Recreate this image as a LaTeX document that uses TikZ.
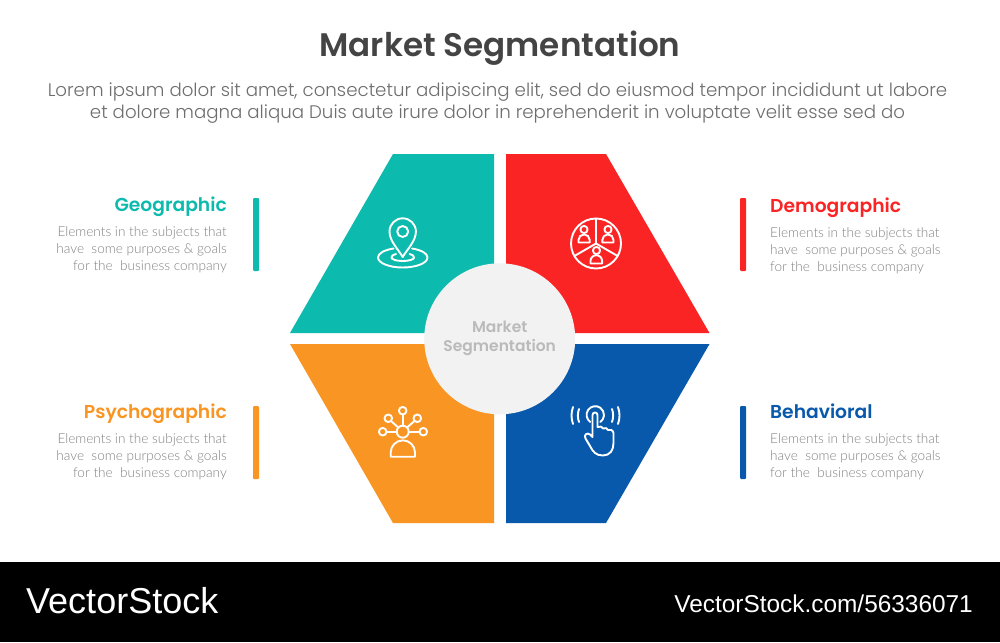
\documentclass[tikz,border=0pt]{standalone}
\usepackage{fontspec}
\setmainfont{Poppins}
\newfontfamily\semifont{Poppins SemiBold}
\newfontfamily\lightfont{Poppins Light}
\newfontfamily\bodyfont{Lato Light}
\newfontfamily\vsfont{Liberation Sans}
\definecolor{teal1}{HTML}{0DBAAE}
\definecolor{red1}{HTML}{FB2424}
\definecolor{orange1}{HTML}{F99522}
\definecolor{blue1}{HTML}{0859AB}
\definecolor{ink}{HTML}{444444}
\definecolor{leadgrey}{HTML}{6E6E6E}
\definecolor{bodygrey}{HTML}{828282}
\definecolor{hubfill}{HTML}{F2F2F2}
\definecolor{hubtext}{HTML}{BABABA}
\tikzset{
  px/.style={x=1pt,y=-1pt},
  headL/.style={font=\semifont\fontsize{18.7}{22}\selectfont,inner sep=0pt,anchor=base east},
  headR/.style={font=\semifont\fontsize{18.7}{22}\selectfont,inner sep=0pt,anchor=base west},
  blurbL/.style={font=\bodyfont\fontsize{13.6}{17}\selectfont,text=bodygrey,align=right,anchor=north east,inner sep=0pt},
  blurbR/.style={font=\bodyfont\fontsize{13.6}{17}\selectfont,text=bodygrey,align=left,anchor=north west,inner sep=0pt},
  barmark/.style={rounded corners=1pt},
  icon/.style={draw=white,line width=1.9pt,fill=none,line join=round,line cap=round},
}
\newcommand{\blurbtext}{Elements in the subjects that\\have\ \ some purposes \& goals\\for the\ \ business company}
\begin{document}
\begin{tikzpicture}[px]
\useasboundingbox (0,0) rectangle (1000,642);
\fill[white] (0,0) rectangle (1000,642);
\fill[black] (0,562) rectangle (1000,642);

\node[font=\semifont\fontsize{32.6}{38}\selectfont,text=ink,inner sep=0pt] (title) at (500,48) {Market Segmentation};
\node[font=\lightfont\fontsize{18.2}{22}\selectfont,text=leadgrey,align=center,inner sep=0pt] (lead) at (497.5,103) {Lorem ipsum dolor sit amet, consectetur adipiscing elit, sed do eiusmod tempor incididunt ut labore\\et dolore magna aliqua Duis aute irure dolor in reprehenderit in voluptate velit esse sed do};

% quadrants
\fill[teal1] (393,154) -- (494,154) -- (494,333) -- (290,333) -- cycle;
\fill[red1] (506,154) -- (606,154) -- (709.5,333) -- (506,333) -- cycle;
\fill[orange1] (290,344) -- (494,344) -- (494,523) -- (393,523) -- cycle;
\fill[blue1] (506,344) -- (709.5,344) -- (606,523) -- (506,523) -- cycle;

% hub
\node[circle,fill=hubfill,minimum size=151pt,inner sep=0pt,font=\semifont\fontsize{15.5}{19}\selectfont,text=hubtext,align=center] (hub) at (499.7,338.8) {Market\\Segmentation};

% side bars
\fill[teal1,barmark] (253,198) rectangle (259,271);
\fill[red1,barmark] (740,198) rectangle (746,271);
\fill[orange1,barmark] (253,406) rectangle (259,479);
\fill[blue1,barmark] (740,406) rectangle (746,479);

% labels
\node[headL,text=teal1] (geo) at (227,211) {Geographic};
\node[blurbL] (geot) at (227,226) {\blurbtext};
\node[headR,text=red1] (dem) at (770,212) {Demographic};
\node[blurbR] (demt) at (770,227) {\blurbtext};
\node[headL,text=orange1] (psy) at (227,418) {Psychographic};
\node[blurbL] (psyt) at (227,433) {\blurbtext};
\node[headR,text=blue1] (beh) at (770,418) {Behavioral};
\node[blurbR] (beht) at (770,433) {\blurbtext};

% pin icon
\draw[icon] (402.7,257) .. controls (398,249) and (389.5,241) .. (389.5,231.5)
  arc[start angle=180,end angle=360,radius=13.2]
  .. controls (415.9,241) and (407.4,249) .. (402.7,257) -- cycle;
\draw[icon] (402.7,231.5) circle[radius=5.5];
\draw[icon] (393.5,248.5) .. controls (384,250) and (378,253.5) .. (378,257.5)
  .. controls (378,263) and (389,267.5) .. (402.7,267.5)
  .. controls (416.4,267.5) and (427.5,263) .. (427.5,257.5)
  .. controls (427.5,253.5) and (421.5,250) .. (412,248.5);
\draw[icon] (396,254) .. controls (392.5,255) and (391.5,256) .. (391.5,257.5)
  .. controls (391.5,259.5) and (396.5,261) .. (402.7,261)
  .. controls (409,261) and (414,259.5) .. (414,257.5)
  .. controls (414,256) and (413,255) .. (409.5,254);

% pie icon
\draw[icon] (596,243.5) circle[radius=25];
\draw[icon] (596,218.5) -- (596,243.5);
\draw[icon] (596,243.5) -- (574.4,256);
\draw[icon] (596,243.5) -- (617.6,256);
\draw[icon] (584,229.5) circle[radius=3.6];
\draw[icon] (578.5,242.5) -- (578.5,240) arc[start angle=180,end angle=360,radius=5.6] -- (589.7,242.5) -- cycle;
\draw[icon] (608,229.5) circle[radius=3.6];
\draw[icon] (602.3,242.5) -- (602.3,240) arc[start angle=180,end angle=360,radius=5.6] -- (613.5,242.5) -- cycle;
\draw[icon] (596.5,250.5) circle[radius=3.6];
\draw[icon] (590.5,263.5) -- (590.5,261) arc[start angle=180,end angle=360,radius=5.8] -- (602.1,263.5) -- cycle;

% network icon
\draw[icon] (402.7,431.7) circle[radius=6];
\draw[icon] (402.7,410.7) circle[radius=3.8];
\draw[icon] (388.3,418.3) circle[radius=3.8];
\draw[icon] (417.3,418.3) circle[radius=3.8];
\draw[icon] (382.7,431.7) circle[radius=3.8];
\draw[icon] (423.3,431.7) circle[radius=3.8];
\draw[icon] (402.7,414.5) -- (402.7,425.7);
\draw[icon] (391,421) -- (398.3,427.5);
\draw[icon] (414.5,421) -- (407,427.5);
\draw[icon] (386.5,431.7) -- (396.7,431.7);
\draw[icon] (408.7,431.7) -- (419.5,431.7);
\draw[icon] (390.7,456.7) -- (390.7,452.5) arc[start angle=180,end angle=360,radius=12.15] -- (415,456.7) -- cycle;

% touch icon
\draw[icon] (590.3,422) arc[start angle=125,end angle=415,radius=8.7];
\draw[icon] (592.5,426.5) -- (592.5,415) arc[start angle=180,end angle=360,radius=2.5] -- (597.5,427)
  .. controls (600,426) and (602.5,426.5) .. (603,428.5)
  .. controls (605,427.5) and (607.5,428) .. (608,430)
  .. controls (610,429) and (613,430) .. (613.5,433)
  -- (613.5,443)
  .. controls (613.5,450) and (610,455.5) .. (603,455.5)
  .. controls (596,455.5) and (593,452) .. (590,446)
  -- (585.5,438.5)
  .. controls (583.5,435) and (587,432) .. (590,434.5)
  -- (592.5,437) -- (592.5,426.5);
\draw[icon] (573,407) .. controls (571,413) and (571,418) .. (573,424);
\draw[icon] (579,409) .. controls (577.5,413) and (577.5,418) .. (579,422);
\draw[icon] (612,409) .. controls (613.5,413) and (613.5,418) .. (612,422);
\draw[icon] (618,407) .. controls (620,413) and (620,418) .. (618,424);

% watermark
\node[font=\vsfont\fontsize{36}{40}\selectfont,text=white,anchor=west,inner sep=0pt] (vs) at (26,601) {VectorStock};
\node[font=\vsfont\fontsize{24.4}{28}\selectfont,text=white,anchor=east,inner sep=0pt] (vsurl) at (973,604) {VectorStock.com/56336071};
\end{tikzpicture}
\end{document}
